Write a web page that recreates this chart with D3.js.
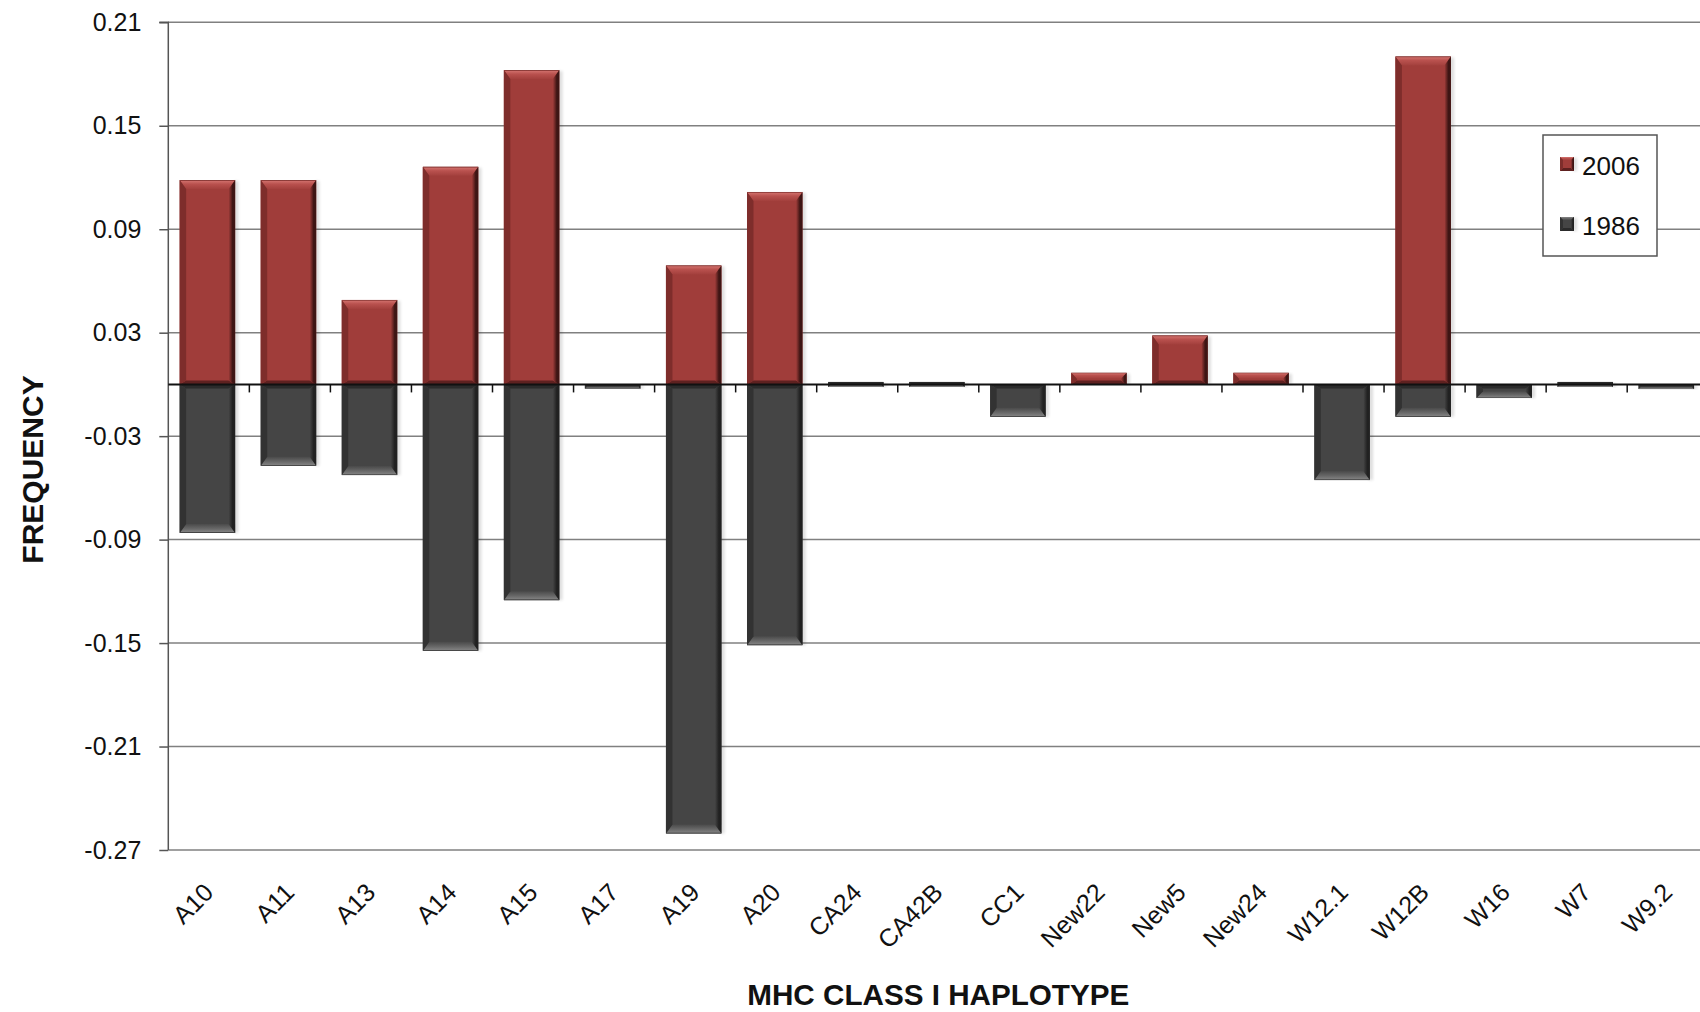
<!DOCTYPE html>
<html>
<head>
<meta charset="utf-8">
<script src="https://cdn.jsdelivr.net/npm/d3@7"></script>
<style>
  html, body { margin: 0; padding: 0; background: #fff; }
  svg { display: block; }
  text { font-family: "Liberation Sans", Arial, sans-serif; fill: #111; }
</style>
</head>
<body>
<svg id="chart" width="1700" height="1012"></svg>
<script>
// MHC class I haplotype frequencies: 2006 plotted upward, 1986 plotted downward
const categories = ["A10","A11","A13","A14","A15","A17","A19","A20","CA24","CA42B","CC1","New22","New5","New24","W12.1","W12B","W16","W7","W9.2"];
const freq2006 = [0.1185, 0.1185, 0.049, 0.1262, 0.1823, 0, 0.069, 0.1116, 0, 0, 0, 0.0067, 0.0284, 0.0067, 0, 0.1902, 0, 0, 0];
const freq1986 = [-0.0861, -0.0472, -0.0526, -0.1545, -0.1251, -0.0025, -0.2604, -0.1512, -0.0015, -0.0015, -0.0188, 0, 0, 0, -0.0555, -0.0188, -0.0079, -0.0015, -0.0027];
const yTicks = [0.21, 0.15, 0.09, 0.03, -0.03, -0.09, -0.15, -0.21, -0.27];
const seriesNames = ["2006", "1986"];

const svg = d3.select("#chart");
const plotLeft = 168.3, plotTop = 22.3, plotBottom = 850;
const step = 81.05;

const x = d3.scaleBand().domain(categories).range([plotLeft, plotLeft + step * categories.length]).padding(0);
const y = d3.scaleLinear().domain([-0.27, 0.21]).range([plotBottom, plotTop]);

// bar colour sets: face, lit end bevel stops, left/right sides, base end
const palettes = {
  "2006": { face: "#a03d3a", left: "#7e2d2b", right: "#3e1514", base: "#5e2120",
            lit: [["0%", "#6e2523"], ["14%", "#cd6b67"], ["45%", "#b9514e"], ["100%", "#a3403d"]], id: "red" },
  "1986": { face: "#454545", left: "#323232", right: "#212121", base: "#2b2b2b",
            lit: [["0%", "#2a2a2a"], ["14%", "#7e7e7e"], ["50%", "#666666"], ["100%", "#4a4a4a"]], id: "gray" }
};

const defs = svg.append("defs");
Object.values(palettes).forEach(p => {
  [["up", 0, 1], ["down", 1, 0]].forEach(([dir, y1, y2]) => {
    const g = defs.append("linearGradient").attr("id", `lit-${p.id}-${dir}`)
      .attr("x1", 0).attr("x2", 0).attr("y1", y1).attr("y2", y2);
    p.lit.forEach(([o, c]) => g.append("stop").attr("offset", o).attr("stop-color", c));
  });
  const r = defs.append("linearGradient").attr("id", `side-${p.id}`).attr("x1", 0).attr("x2", 1).attr("y1", 0).attr("y2", 0);
  r.append("stop").attr("offset", "0%").attr("stop-color", p.face);
  r.append("stop").attr("offset", "60%").attr("stop-color", p.right);
  r.append("stop").attr("offset", "100%").attr("stop-color", p.right);
});
const shadow = defs.append("filter").attr("id", "soft").attr("x", "-50%").attr("width", "200%");
shadow.append("feGaussianBlur").attr("stdDeviation", 1.5);

// horizontal gridlines
const grid = svg.append("g");
grid.selectAll("line").data(yTicks).join("line")
  .attr("x1", plotLeft).attr("x2", 1700)
  .attr("y1", d => y(d)).attr("y2", d => y(d))
  .attr("stroke", "#808080").attr("stroke-width", 1.5);

// y axis with outward ticks and labels
const yAxis = d3.axisLeft(y).tickValues(yTicks).tickSize(9).tickPadding(18)
  .tickFormat(d => d3.format(".2f")(d).replace("−", "-"));
const yg = svg.append("g").attr("transform", `translate(${plotLeft},0)`).call(yAxis);
yg.select(".domain").attr("stroke", "#555").attr("stroke-width", 1.5).attr("d", `M-9,${y(0.21)}H0V${y(-0.27)}`);
yg.selectAll(".tick line").attr("stroke", "#555").attr("stroke-width", 1.5);
yg.selectAll(".tick text").attr("font-size", 25).attr("fill", "#111")
  .attr("font-family", "'Liberation Sans', Arial, sans-serif");

// bevelled bar drawing
function bevelBar(g, x0, x1, yv, yb, p, maxB) {
  const positive = yv < yb;
  const t = Math.min(yv, yb), bt = Math.max(yv, yb);
  const h = bt - t;
  const b = Math.min(maxB, (x1 - x0) / 4, h / 2);
  const s = Math.min(b, 6.5);
  const poly = pts => pts.map(q => q.join(",")).join(" ");
  g.append("rect").attr("x", x1 - 1).attr("y", t + 1).attr("width", 4).attr("height", Math.max(h - 1, 0))
    .attr("fill", "#000").attr("opacity", 0.14).attr("filter", "url(#soft)");
  g.append("rect").attr("x", x0).attr("y", t).attr("width", x1 - x0).attr("height", h).attr("fill", p.face);
  // lit bevel sits at the value end, dark bevel at the base end
  const topFill = positive ? `url(#lit-${p.id}-up)` : p.base;
  const botFill = positive ? p.base : `url(#lit-${p.id}-down)`;
  const tb = positive ? b : Math.min(s, 4), bb = positive ? Math.min(s, 4) : b;
  g.append("polygon").attr("points", poly([[x0, t], [x1, t], [x1 - s, t + tb], [x0 + s, t + tb]])).attr("fill", topFill);
  g.append("polygon").attr("points", poly([[x0, bt], [x1, bt], [x1 - s, bt - bb], [x0 + s, bt - bb]])).attr("fill", botFill);
  g.append("polygon").attr("points", poly([[x0, t], [x0 + s, t + tb], [x0 + s, bt - bb], [x0, bt]])).attr("fill", p.left);
  g.append("polygon").attr("points", poly([[x1, t], [x1 - s, t + tb], [x1 - s, bt - bb], [x1, bt]])).attr("fill", `url(#side-${p.id})`);
}

const bars = svg.append("g");
const barOffset = 0.14, barWidth = 0.685;
[[freq2006, "2006"], [freq1986, "1986"]].forEach(([vals, name]) => {
  vals.forEach((v, i) => {
    if (v === 0) return;
    const bx = x(categories[i]) + x.bandwidth() * barOffset;
    const bw = x.bandwidth() * barWidth;
    let yv = y(v), yb = y(0);
    // keep tiny values visible as a thin sliver
    if (Math.abs(yv - yb) < 3) { yv = yb + 2.5; yb = yb - 2.5; }
    bevelBar(bars.append("g"), bx, bx + bw, yv, yb, palettes[name], 9);
  });
});

// zero axis with category ticks between bands
const xAxis = d3.axisBottom(x).tickSize(0).tickFormat("");
const xg = svg.append("g").attr("transform", `translate(0,${y(0)})`).call(xAxis);
xg.select(".domain").attr("stroke", "#111").attr("stroke-width", 2).attr("d", `M${plotLeft},0H1700`);
xg.selectAll(".tick").remove();
xg.selectAll("line.sep").data(categories.slice(1)).join("line").attr("class", "sep")
  .attr("x1", d => x(d)).attr("x2", d => x(d)).attr("y1", 0).attr("y2", 8)
  .attr("stroke", "#111").attr("stroke-width", 1.5);

// rotated category labels below the plot
svg.append("g").selectAll("text").data(categories).join("text")
  .attr("transform", d => `translate(${x(d) + x.bandwidth() / 2 + 6},${plotBottom + 44}) rotate(-45)`)
  .attr("text-anchor", "end").attr("font-size", 25).text(d => d);

// axis titles
svg.append("text").attr("transform", "translate(43,469.5) rotate(-90)")
  .attr("text-anchor", "middle").attr("font-size", 30).attr("font-weight", "bold").text("FREQUENCY");
svg.append("text").attr("x", plotLeft + step * categories.length / 2).attr("y", 1005)
  .attr("text-anchor", "middle").attr("font-size", 30).attr("font-weight", "bold")
  .attr("textLength", 382).attr("lengthAdjust", "spacingAndGlyphs").text("MHC CLASS I HAPLOTYPE");

// legend
const lg = svg.append("g").attr("transform", "translate(1543,135)");
lg.append("rect").attr("width", 114).attr("height", 121).attr("fill", "#fff").attr("stroke", "#555").attr("stroke-width", 1.5);
seriesNames.forEach((name, i) => {
  const row = lg.append("g").attr("transform", `translate(0,${22 + i * 60})`);
  bevelBar(row, 17, 31, 0, 14, palettes[name], 3);
  row.append("text").attr("x", 39).attr("y", 18).attr("font-size", 26).text(name);
});
</script>
</body>
</html>
